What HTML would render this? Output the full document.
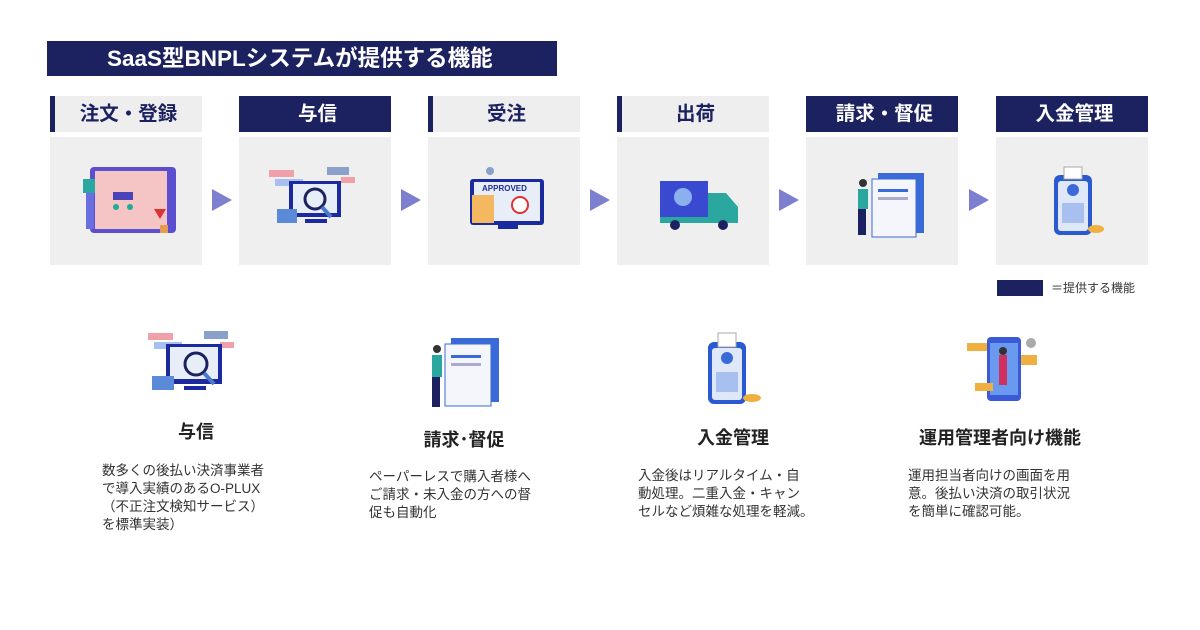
<!DOCTYPE html>
<html><head><meta charset="utf-8"><style>
*{margin:0;padding:0;box-sizing:border-box}
body{width:1200px;height:630px;background:#fff;position:relative;overflow:hidden;font-family:"Liberation Sans","Noto Sans CJK JP",sans-serif;color:#222}
.abs{position:absolute}
.title{left:47px;top:41px;width:510px;height:35px;background:#1c2160;color:#fff;font-size:22.5px;font-weight:bold;line-height:35px;padding-left:60px}
.tab{top:96px;width:152px;height:36px;background:#eeeeee;color:#1c2160;font-size:19.5px;font-weight:bold;text-align:center;line-height:36px;border-left:5px solid #1c2160}
.tab.on{background:#1c2160;color:#fff;box-shadow:-7px 0 0 -2px #fff}
.box{top:137px;width:152px;height:128px;background:#efefef}
.arr{top:189px;width:0;height:0;border-top:11px solid transparent;border-bottom:11px solid transparent;border-left:20px solid #7c80cf}
.h{font-size:18px;font-weight:bold;color:#222;text-align:center;width:240px}
.t{font-size:13.5px;line-height:18px;color:#333}
</style></head><body>
<div class="abs title">SaaS型BNPLシステムが提供する機能</div>

<div class="abs tab" style="left:50px">注文・登録</div>
<div class="abs tab on" style="left:239px">与信</div>
<div class="abs tab" style="left:428px">受注</div>
<div class="abs tab" style="left:617px">出荷</div>
<div class="abs tab on" style="left:806px">請求・督促</div>
<div class="abs tab on" style="left:996px">入金管理</div>

<div class="abs box" style="left:50px"><svg width="152" height="128"><rect x="40" y="30" width="86" height="66" rx="4" fill="#5b4fd0"/><rect x="45" y="34" width="72" height="58" fill="#f5c4c4"/><rect x="63" y="55" width="20" height="8" fill="#4b44b8"/><circle cx="66" cy="70" r="3" fill="#2a9"/><circle cx="80" cy="70" r="3" fill="#2a9"/><rect x="33" y="42" width="12" height="14" fill="#2aa7a0"/><rect x="36" y="56" width="8" height="36" fill="#6b6ee0"/><path d="M104 72l6 10 6-10z" fill="#d33"/><rect x="110" y="88" width="8" height="8" fill="#e89a50"/></svg></div>
<div class="abs box" style="left:239px"><svg width="152" height="128"><rect x="30" y="33" width="25" height="7" fill="#f0a0a8"/><rect x="36" y="42" width="28" height="7" fill="#a8c0f0"/><rect x="88" y="30" width="22" height="8" fill="#8aa0c8"/><rect x="102" y="40" width="14" height="6" fill="#f0a0a8"/><rect x="50" y="44" width="52" height="36" fill="#1c2aa0"/><rect x="54" y="47" width="44" height="29" fill="#e8eef8"/><circle cx="76" cy="62" r="10" fill="none" stroke="#1c2160" stroke-width="3"/><line x1="83" y1="70" x2="92" y2="80" stroke="#4a7ad0" stroke-width="4"/><rect x="38" y="72" width="20" height="14" fill="#5a8ad8"/><rect x="66" y="82" width="22" height="4" fill="#1c2aa0"/></svg></div>
<div class="abs box" style="left:428px"><svg width="152" height="128"><rect x="42" y="42" width="74" height="46" rx="3" fill="#1c2aa0"/><rect x="46" y="45" width="66" height="39" fill="#e8eef8"/><text x="54" y="54" font-size="8" font-weight="bold" fill="#1c2aa0" font-family="Liberation Sans">APPROVED</text><rect x="44" y="58" width="22" height="28" fill="#f4b860"/><circle cx="92" cy="68" r="8" fill="#fff" stroke="#d33" stroke-width="2"/><rect x="70" y="88" width="20" height="4" fill="#1c2aa0"/><circle cx="62" cy="34" r="4" fill="#8aa0c8"/></svg></div>
<div class="abs box" style="left:617px"><svg width="152" height="128"><rect x="43" y="44" width="48" height="38" fill="#3a4ad0"/><circle cx="66" cy="60" r="9" fill="#8ab0f0"/><path d="M91 56h18l12 14v12h-30z" fill="#2aa8a0"/><rect x="43" y="80" width="78" height="6" fill="#2aa8a0"/><circle cx="58" cy="88" r="5" fill="#1c2160"/><circle cx="106" cy="88" r="5" fill="#1c2160"/></svg></div>
<div class="abs box" style="left:806px"><svg width="152" height="128"><rect x="72" y="36" width="46" height="60" fill="#3a6ad8"/><rect x="66" y="42" width="44" height="58" fill="#f4f6fb" stroke="#3a6ad8"/><rect x="72" y="52" width="30" height="3" fill="#3a6ad8"/><rect x="72" y="60" width="30" height="3" fill="#aac"/><circle cx="57" cy="46" r="4" fill="#333"/><rect x="52" y="52" width="10" height="20" fill="#2aa8a0"/><rect x="52" y="72" width="8" height="26" fill="#1c2160"/></svg></div>
<div class="abs box" style="left:996px"><svg width="152" height="128"><rect x="58" y="38" width="38" height="60" rx="6" fill="#2a5ad0"/><rect x="62" y="44" width="30" height="50" rx="3" fill="#dfe8f8"/><rect x="68" y="30" width="18" height="12" fill="#fff" stroke="#aaa"/><circle cx="77" cy="53" r="6" fill="#3a6ad8"/><rect x="66" y="66" width="22" height="20" fill="#a8c0f0"/><ellipse cx="100" cy="92" rx="8" ry="4" fill="#f0b040"/></svg></div>

<div class="abs arr" style="left:212px"></div>
<div class="abs arr" style="left:401px"></div>
<div class="abs arr" style="left:590px"></div>
<div class="abs arr" style="left:779px"></div>
<div class="abs arr" style="left:969px"></div>

<div class="abs" style="left:997px;top:280px;width:46px;height:16px;background:#1c2160"></div>
<div class="abs" style="left:1051px;top:280px;font-size:12px;color:#333;line-height:16px">＝提供する機能</div>

<svg class="abs" style="left:140px;top:328px" width="110" height="70"><rect x="8" y="5" width="25" height="7" fill="#f0a0a8"/><rect x="14" y="14" width="28" height="7" fill="#a8c0f0"/><rect x="64" y="3" width="24" height="8" fill="#8aa0c8"/><rect x="80" y="14" width="14" height="6" fill="#f0a0a8"/><rect x="26" y="16" width="56" height="40" fill="#1c2aa0"/><rect x="30" y="19" width="48" height="32" fill="#e8eef8"/><circle cx="56" cy="36" r="11" fill="none" stroke="#1c2160" stroke-width="3"/><line x1="64" y1="45" x2="74" y2="56" stroke="#4a7ad0" stroke-width="4"/><rect x="12" y="48" width="22" height="14" fill="#5a8ad8"/><rect x="44" y="58" width="22" height="4" fill="#1c2aa0"/></svg>
<svg class="abs" style="left:425px;top:335px" width="80" height="75"><rect x="26" y="3" width="48" height="64" fill="#3a6ad8"/><rect x="20" y="9" width="46" height="62" fill="#f4f6fb" stroke="#3a6ad8"/><rect x="26" y="20" width="30" height="3" fill="#3a6ad8"/><rect x="26" y="28" width="30" height="3" fill="#aac"/><circle cx="12" cy="14" r="4" fill="#333"/><rect x="7" y="20" width="10" height="22" fill="#2aa8a0"/><rect x="7" y="42" width="8" height="30" fill="#1c2160"/></svg>
<svg class="abs" style="left:700px;top:330px" width="70" height="80"><rect x="8" y="12" width="38" height="62" rx="6" fill="#2a5ad0"/><rect x="12" y="18" width="30" height="52" rx="3" fill="#dfe8f8"/><rect x="18" y="3" width="18" height="14" fill="#fff" stroke="#aaa"/><circle cx="27" cy="28" r="6" fill="#3a6ad8"/><rect x="16" y="42" width="22" height="20" fill="#a8c0f0"/><ellipse cx="52" cy="68" rx="9" ry="4" fill="#f0b040"/></svg>
<svg class="abs" style="left:965px;top:335px" width="80" height="70"><rect x="22" y="2" width="34" height="64" rx="4" fill="#3a5ad8"/><rect x="25" y="8" width="28" height="52" fill="#6a9af0"/><rect x="2" y="8" width="20" height="8" fill="#f0b040"/><rect x="56" y="20" width="16" height="10" fill="#f0b040"/><rect x="10" y="48" width="18" height="8" fill="#f0b040"/><rect x="34" y="20" width="8" height="30" fill="#d03060"/><circle cx="38" cy="16" r="4" fill="#333"/><circle cx="66" cy="8" r="5" fill="#aaa"/></svg>

<div class="abs h" style="left:76px;top:418px">与信</div>
<div class="abs h" style="left:344px;top:426px">請求･督促</div>
<div class="abs h" style="left:613px;top:424px">入金管理</div>
<div class="abs h" style="left:880px;top:424px">運用管理者向け機能</div>

<div class="abs t" style="left:102px;top:462px">数多くの後払い決済事業者<br>で導入実績のあるO-PLUX<br>（不正注文検知サービス）<br>を標準実装）</div>
<div class="abs t" style="left:369px;top:468px">ペーパーレスで購入者様へ<br>ご請求・未入金の方への督<br>促も自動化</div>
<div class="abs t" style="left:638px;top:467px">入金後はリアルタイム・自<br>動処理。二重入金・キャン<br>セルなど煩雑な処理を軽減。</div>
<div class="abs t" style="left:908px;top:467px">運用担当者向けの画面を用<br>意。後払い決済の取引状況<br>を簡単に確認可能。</div>
</body></html>
